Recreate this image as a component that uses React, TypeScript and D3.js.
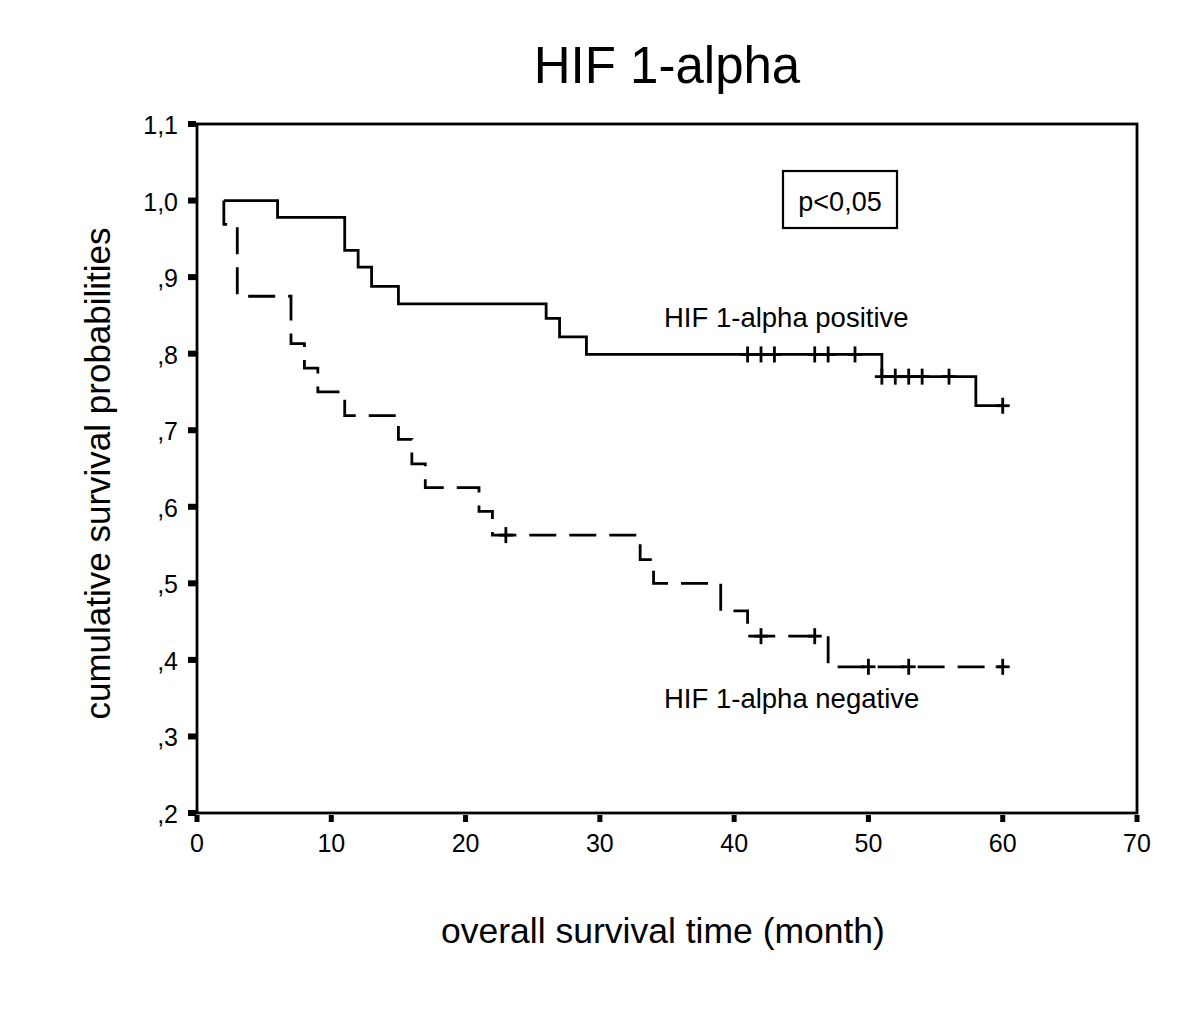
import * as d3 from "d3"

const posTimes = [2, 6, 11, 12, 13, 15, 26, 27, 29, 51, 58, 60]
const posSurv = [1.0, 0.978, 0.935, 0.913, 0.888, 0.865, 0.846, 0.822, 0.799, 0.77, 0.732, 0.732]
const posCensor = [41, 42, 43, 46, 47, 49, 51, 52, 53, 54, 56, 60]

const negTimes = [2, 2, 3, 7, 8, 9, 11, 15, 16, 17, 21, 22, 33, 34, 39, 41, 47, 60]
const negSurv = [1.0, 0.969, 0.875, 0.813, 0.781, 0.75, 0.719, 0.688, 0.656, 0.625, 0.594, 0.563, 0.531, 0.5, 0.464, 0.431, 0.391, 0.391]
const negCensor = [23, 42, 46, 50, 53, 60]

const xTicks = [0, 10, 20, 30, 40, 50, 60, 70]
const yTicks = [0.2, 0.3, 0.4, 0.5, 0.6, 0.7, 0.8, 0.9, 1.0, 1.1]
const yTickLabels = [",2", ",3", ",4", ",5", ",6", ",7", ",8", ",9", "1,0", "1,1"]

const W = 1200
const H = 1011
const left = 197
const right = 1137
const top = 124
const bottom = 813

export default function App() {
  const x = d3.scaleLinear().domain([0, 70]).range([left, right])
  const y = d3.scaleLinear().domain([0.2, 1.1]).range([bottom, top])

  const line = d3
    .line<[number, number]>()
    .x((d) => x(d[0]))
    .y((d) => y(d[1]))
    .curve(d3.curveStepAfter)

  const pos = posTimes.map((t, i) => [t, posSurv[i]] as [number, number])
  const neg = negTimes.map((t, i) => [t, negSurv[i]] as [number, number])

  // survival value at time t for censor marks
  const at = (times: number[], surv: number[], t: number) => {
    let v = surv[0]
    times.forEach((tt, i) => {
      if (tt <= t) v = surv[i]
    })
    return v
  }

  const font = "'Liberation Sans', Arial, sans-serif"

  const cross = (t: number, v: number, key: string) => (
    <g key={key} stroke="#000" strokeWidth={2.8}>
      <line x1={x(t)} x2={x(t)} y1={y(v) - 8} y2={y(v) + 8} />
      <line x1={x(t) - 7} x2={x(t) + 7} y1={y(v)} y2={y(v)} />
    </g>
  )

  return (
    <svg
      width={W}
      height={H}
      style={{ position: "absolute", left: 0, top: 0, background: "#fff" }}
      fontFamily={font}
    >
      <rect width={W} height={H} fill="#fff" />
      <text x={667} y={83} fontSize={51} textAnchor="middle">
        HIF 1-alpha
      </text>

      {/* frame */}
      <rect
        x={left}
        y={top}
        width={right - left}
        height={bottom - top}
        fill="none"
        stroke="#000"
        strokeWidth={2.8}
      />

      {yTicks.map((t, i) => (
        <g key={t}>
          <rect x={left - 9} y={y(t) - 3} width={8} height={6} fill="#000" />
          <text x={left - 19} y={y(t) + 10} fontSize={25} textAnchor="end">
            {yTickLabels[i]}
          </text>
        </g>
      ))}

      {xTicks.map((t) => (
        <g key={t}>
          <rect x={x(t) - 2.5} y={bottom + 2} width={5} height={7} fill="#000" />
          <text x={x(t)} y={bottom + 39} fontSize={25} textAnchor="middle">
            {t}
          </text>
        </g>
      ))}

      <text
        transform={`translate(110,${(top + bottom) / 2 + 5}) rotate(-90)`}
        fontSize={35}
        textAnchor="middle"
      >
        cumulative survival probabilities
      </text>
      <text x={663} y={943} fontSize={35.5} textAnchor="middle">
        overall survival time (month)
      </text>

      {/* p-value box */}
      <rect x={783} y={171} width={114} height={57} fill="none" stroke="#000" strokeWidth={2.2} />
      <text x={840} y={211} fontSize={27} textAnchor="middle">
        p&lt;0,05
      </text>

      <text x={664} y={327} fontSize={27.5}>
        HIF 1-alpha positive
      </text>
      <text x={664} y={708} fontSize={27.5}>
        HIF 1-alpha negative
      </text>

      <path d={line(pos) ?? ""} fill="none" stroke="#000" strokeWidth={2.8} />
      <path
        d={line(neg) ?? ""}
        fill="none"
        stroke="#000"
        strokeWidth={2.8}
        strokeDasharray="27 13"
      />

      {posCensor.map((t, i) => cross(t, at(posTimes, posSurv, t), "p" + i))}
      {negCensor.map((t, i) => cross(t, at(negTimes, negSurv, t), "n" + i))}
    </svg>
  )
}
